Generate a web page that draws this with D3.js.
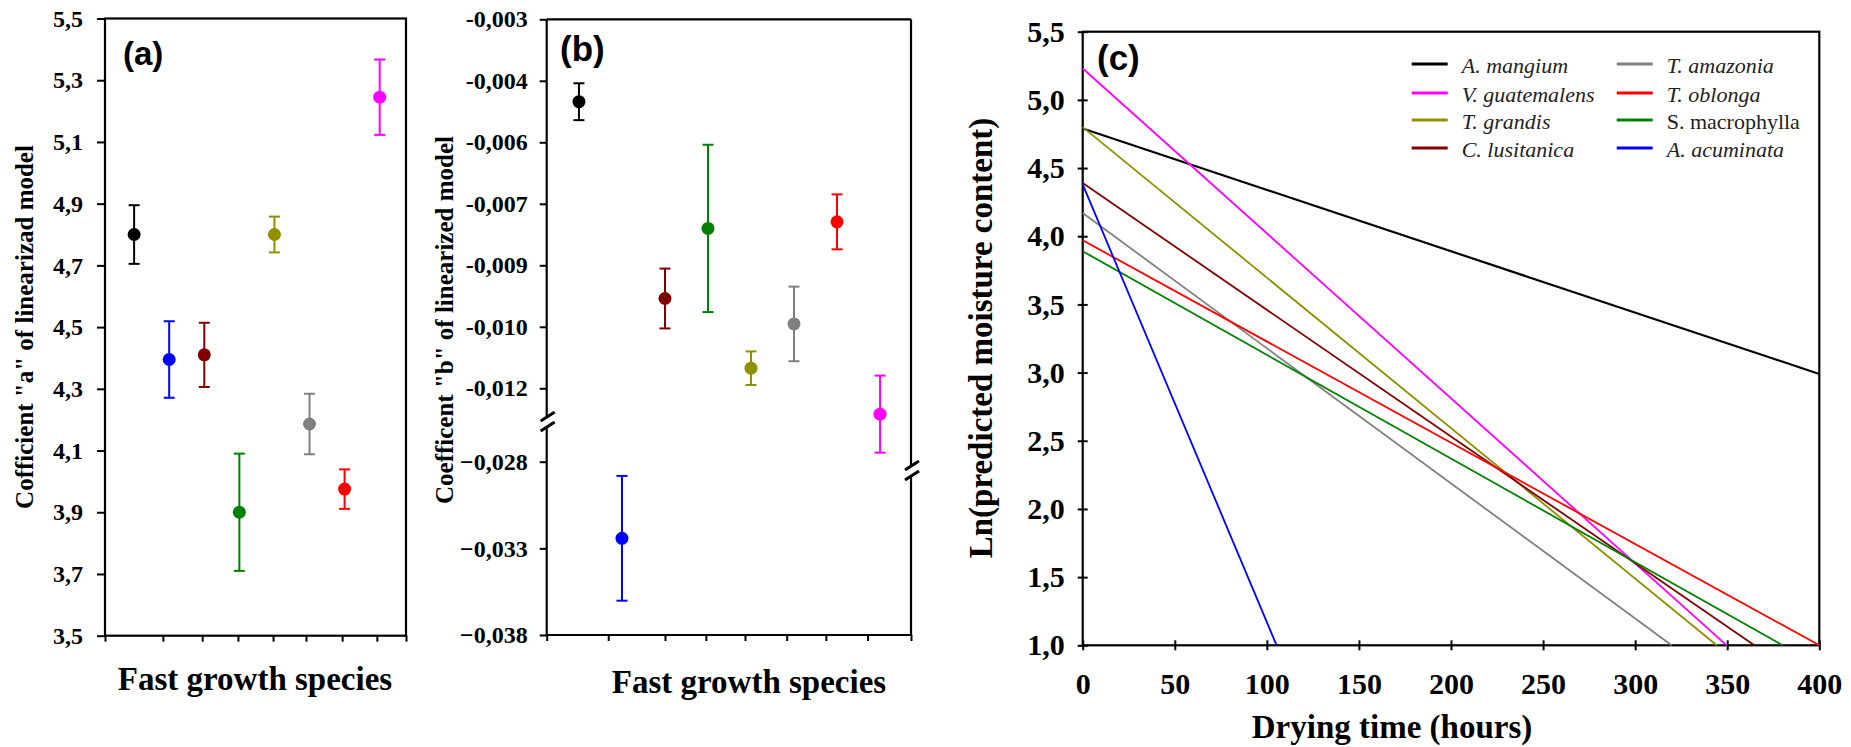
<!DOCTYPE html>
<html><head><meta charset="utf-8">
<script src="https://cdn.jsdelivr.net/npm/d3@7"></script>
<style>body{margin:0;background:#fff}svg{display:block}</style>
</head><body>
<svg id="chart" width="1851" height="747"></svg>
<script>
// ---------------- DATA ----------------
const species = ["A. mangium","A. acuminata","C. lusitanica","S. macrophylla","T. grandis","T. amazonia","T. oblonga","V. guatemalensis"];
const speciesColors = ["#000000","#0000ff","#800000","#008000","#8f8f00","#808080","#ff0000","#ff00ff"];
const coefA = [4.80, 4.395, 4.41, 3.90, 4.80, 4.186, 3.975, 5.245];
const coefAErr = [0.095, 0.124, 0.104, 0.19, 0.058, 0.098, 0.064, 0.122];
const coefB = [-0.00501, -0.03242, -0.00981, -0.00810, -0.01151, -0.01043, -0.00794, -0.01263];
const coefBErr = [0.00045, 0.0036, 0.00073, 0.00204, 0.00041, 0.00091, 0.00067, 0.00094];

const ticksA = [3.5, 3.7, 3.9, 4.1, 4.3, 4.5, 4.7, 4.9, 5.1, 5.3, 5.5];
const tickLabelsA = ["3,5","3,7","3,9","4,1","4,3","4,5","4,7","4,9","5,1","5,3","5,5"];
const ticksBUpper = [-0.003, -0.0045, -0.006, -0.0075, -0.009, -0.0105, -0.012];
const tickLabelsBUpper = ["-0,003","-0,004","-0,006","-0,007","-0,009","-0,010","-0,012"];
const ticksBLower = [-0.028, -0.033, -0.038];
const tickLabelsBLower = ["\u22120,028","\u22120,033","\u22120,038"];
const xTicksA = [0.82, 1.94, 2.96, 3.96, 4.9, 5.93, 6.92];
const xTicksB = [0.68, 2.0, 2.95, 3.86, 4.83, 5.74, 6.71];

const lineSpecies = ["A. mangium","V. guatemalens","T. grandis","C. lusitanica","T. amazonia","T. oblonga","S. macrophylla","A. acuminata"];
const lineColors = ["#000000","#ff00ff","#8f8f00","#800000","#808080","#ff0000","#008000","#0000ff"];
const lineStartLn = [4.79, 5.23, 4.80, 4.39, 4.17, 3.97, 3.89, 4.38];
const lineEndTime = [400, 349.7, 344.3, 364.7, 319.8, 400, 380.1, 105.3];
const lineEndLn = [2.99, 1.0, 1.0, 1.0, 1.0, 1.0, 1.0, 1.0];
const legendUpright = ["S. macrophylla"];
const timeTicks = [0, 50, 100, 150, 200, 250, 300, 350, 400];
const lnTicks = [1.0, 1.5, 2.0, 2.5, 3.0, 3.5, 4.0, 4.5, 5.0, 5.5];
const lnTickLabels = ["1,0","1,5","2,0","2,5","3,0","3,5","4,0","4,5","5,0","5,5"];

// ---------------- DRAW ----------------
const svg = d3.select("#chart");
svg.append("rect").attr("width",1851).attr("height",747).attr("fill","#fff");
const serif = "'Liberation Serif','Times New Roman',serif";
const sans = "'Liberation Sans',Arial,sans-serif";

function styleAxis(g, size){
  g.select(".domain").remove();
  g.selectAll(".tick line").attr("stroke","#000").attr("stroke-width",2);
  g.selectAll(".tick text").attr("font-family",serif).attr("font-weight","bold")
    .attr("font-size",size).attr("fill","#000");
}
function frame(x0,x1,y0,y1){
  svg.append("rect").attr("x",x0).attr("y",y0).attr("width",x1-x0).attr("height",y1-y0)
    .attr("fill","none").attr("stroke","#000").attr("stroke-width",2.2);
}
function errorBars(g, xs, ys, vals, errs, colors){
  vals.forEach((v,i)=>{
    const x = xs(i), ysc = ys(v);
    const gg = g.append("g").attr("stroke",colors[i]).attr("stroke-width",2);
    gg.append("line").attr("x1",x).attr("x2",x).attr("y1",ysc(v-errs[i])).attr("y2",ysc(v+errs[i]));
    gg.append("line").attr("x1",x-5.5).attr("x2",x+5.5).attr("y1",ysc(v-errs[i])).attr("y2",ysc(v-errs[i]));
    gg.append("line").attr("x1",x-5.5).attr("x2",x+5.5).attr("y1",ysc(v+errs[i])).attr("y2",ysc(v+errs[i]));
    g.append("circle").attr("cx",x).attr("cy",ysc(v)).attr("r",6.5).attr("fill",colors[i]);
  });
}
function rotLabel(x,y,text,size){
  svg.append("text").attr("transform",`translate(${x},${y}) rotate(-90)`)
    .attr("text-anchor","middle").attr("font-family",serif).attr("font-weight","bold")
    .attr("font-size",size).text(text);
}
function plainLabel(x,y,text,size,family,anchor){
  svg.append("text").attr("x",x).attr("y",y).attr("text-anchor",anchor||"middle")
    .attr("font-family",family).attr("font-weight","bold").attr("font-size",size).text(text);
}

// ----- Panel (a) -----
const PA = {l:105, r:406, t:18.5, b:635.7};
const xA = d3.scaleLinear().domain([-0.83, 7.75]).range([PA.l, PA.r]);
const yA = d3.scaleLinear().domain([3.5, 5.5]).range([PA.b, PA.t]);
frame(PA.l, PA.r, PA.t, PA.b);
styleAxis(svg.append("g").attr("transform",`translate(${PA.l},0)`)
  .call(d3.axisLeft(yA).tickValues(ticksA).tickFormat((d,i)=>tickLabelsA[i]).tickSize(8).tickPadding(14)), 24);
styleAxis(svg.append("g").attr("transform",`translate(0,${PA.b})`)
  .call(d3.axisBottom(xA).tickValues([xA.domain()[0], ...xTicksA, xA.domain()[1]]).tickFormat("").tickSize(6)), 24);
errorBars(svg.append("g"), i=>xA(i), ()=>yA, coefA, coefAErr, speciesColors);
plainLabel(123, 65, "(a)", 33, sans, "start");
rotLabel(33, 327, "Cofficient \"a\" of linearizad model", 25);
plainLabel(255, 690, "Fast growth species", 33, serif);

// ----- Panel (b) -----
const PB = {l:546.7, r:911, t:19.3, b:635};
const xB = d3.scaleLinear().domain([-0.75, 7.72]).range([PB.l, PB.r]);
const yBu = d3.scaleLinear().domain([-0.012, -0.003]).range([388.3, PB.t]);
const yBl = d3.scaleLinear().domain([-0.038, -0.028]).range([PB.b, 461.7]);
const breakL = 422, breakR = 471;
// frame pieces
const fb = svg.append("g").attr("stroke","#000").attr("stroke-width",2.2).attr("fill","none");
fb.append("line").attr("x1",PB.l).attr("x2",PB.r).attr("y1",PB.t).attr("y2",PB.t);
fb.append("line").attr("x1",PB.l).attr("x2",PB.r).attr("y1",PB.b).attr("y2",PB.b);
fb.append("line").attr("x1",PB.l).attr("x2",PB.l).attr("y1",PB.t).attr("y2",breakL-5);
fb.append("line").attr("x1",PB.l).attr("x2",PB.l).attr("y1",breakL+5).attr("y2",PB.b);
fb.append("line").attr("x1",PB.r).attr("x2",PB.r).attr("y1",PB.t).attr("y2",breakR-5);
fb.append("line").attr("x1",PB.r).attr("x2",PB.r).attr("y1",breakR+5).attr("y2",PB.b);
[[PB.l,breakL],[PB.r,breakR]].forEach(([bx,by])=>{
  [-5,5].forEach(o=>{
    fb.append("line").attr("x1",bx-6).attr("x2",bx+8).attr("y1",by+o+4).attr("y2",by+o-5).attr("stroke-width",3);
  });
});
styleAxis(svg.append("g").attr("transform",`translate(${PB.l},0)`)
  .call(d3.axisLeft(yBu).tickValues(ticksBUpper).tickFormat((d,i)=>tickLabelsBUpper[i]).tickSize(7).tickPadding(12)), 24);
styleAxis(svg.append("g").attr("transform",`translate(${PB.l},0)`)
  .call(d3.axisLeft(yBl).tickValues(ticksBLower).tickFormat((d,i)=>tickLabelsBLower[i]).tickSize(7).tickPadding(12)), 24);
styleAxis(svg.append("g").attr("transform",`translate(0,${PB.b})`)
  .call(d3.axisBottom(xB).tickValues([xB.domain()[0], ...xTicksB, xB.domain()[1]]).tickFormat("").tickSize(6)), 24);
errorBars(svg.append("g"), i=>xB(i), v=>(v < -0.02 ? yBl : yBu), coefB, coefBErr, speciesColors);
plainLabel(560, 61, "(b)", 35, sans, "start");
rotLabel(453, 320, "Coefficent \"b\" of linearized model", 25);
plainLabel(749, 693, "Fast growth species", 33, serif);

// ----- Panel (c) -----
const PC = {l:1082.7, r:1819.3, t:31.7, b:645.3};
const xC = d3.scaleLinear().domain([0, 400]).range([PC.l, PC.r]);
const yC = d3.scaleLinear().domain([1.0, 5.5]).range([PC.b, PC.t]);
frame(PC.l, PC.r, PC.t, PC.b);
const gyC = svg.append("g").attr("transform",`translate(${PC.l},0)`)
  .call(d3.axisLeft(yC).tickValues(lnTicks).tickFormat((d,i)=>lnTickLabels[i]).tickSize(5).tickPadding(13));
styleAxis(gyC, 30);
gyC.selectAll(".tick line").attr("x1",5);
const gxC = svg.append("g").attr("transform",`translate(0,${PC.b})`)
  .call(d3.axisBottom(xC).tickValues(timeTicks).tickFormat(d=>d).tickSize(5).tickPadding(22));
styleAxis(gxC, 30);
gxC.selectAll(".tick line").attr("y1",-5);
const lineGen = d3.line().x(d=>xC(d[0])).y(d=>yC(d[1]));
const linesG = svg.append("g").attr("fill","none");
lineSpecies.forEach((s,i)=>{
  linesG.append("path").datum([[0, lineStartLn[i]],[lineEndTime[i], lineEndLn[i]]])
    .attr("d", lineGen).attr("stroke", lineColors[i]).attr("stroke-width", i===0 ? 2.2 : 1.8);
});
// legend
const lg = svg.append("g");
const legCols = [1411.7, 1616.7], legRows = [64, 93, 120, 148];
lineSpecies.forEach((s,i)=>{
  const c = Math.floor(i/4), r = i%4;
  const x = legCols[c], y = legRows[r];
  lg.append("line").attr("x1",x).attr("x2",x+36).attr("y1",y).attr("y2",y)
    .attr("stroke",lineColors[i]).attr("stroke-width",3);
  lg.append("text").attr("x",x+50).attr("y",y+9).attr("font-family",serif)
    .attr("font-style", legendUpright.includes(s) ? "normal" : "italic")
    .attr("font-size",22).attr("fill","#222").text(s);
});
plainLabel(1097, 70, "(c)", 35, sans, "start");
rotLabel(992, 338, "Ln(predicted moisture content)", 33);
plainLabel(1392, 738, "Drying time (hours)", 33, serif);
</script>
</body></html>
